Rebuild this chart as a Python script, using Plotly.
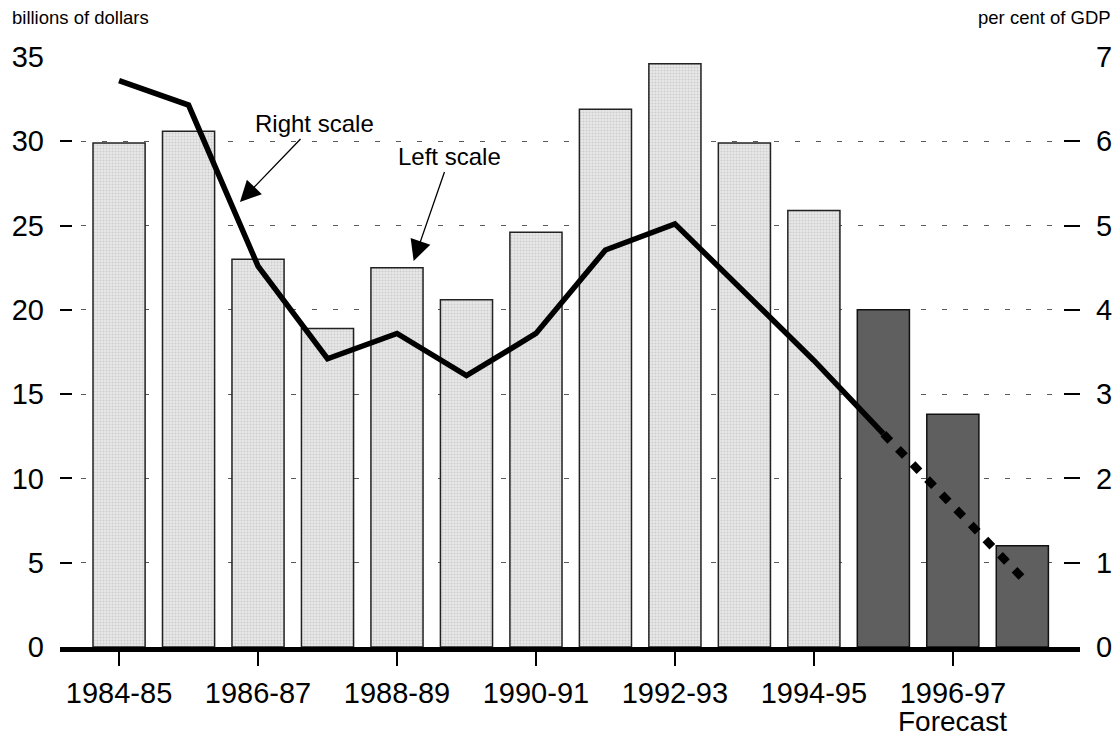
import plotly.graph_objects as go

years = ["1984-85", "1985-86", "1986-87", "1987-88", "1988-89", "1989-90", "1990-91",
         "1991-92", "1992-93", "1993-94", "1994-95", "1995-96", "1996-97", "1997-98"]

# billions of dollars (left scale)
deficit_hist = [29.9, 30.6, 23.0, 18.9, 22.5, 20.6, 24.6, 31.9, 34.6, 29.9, 25.9]
deficit_forecast = [20.0, 13.8, 6.0]

# per cent of GDP (right scale)
gdp_actual = [6.72, 6.43, 4.52, 3.42, 3.72, 3.22, 3.72, 4.71, 5.02, 4.2, 3.4, 2.53]
gdp_forecast = [2.53, 1.67, 0.82]

tick_years = years[::2]

FONT = "Liberation Sans, Arial, sans-serif"

fig = go.Figure()

fig.add_trace(go.Bar(
    x=years[:len(deficit_hist)], y=deficit_hist,
    width=0.75,
    marker=dict(
        color="#e0e0e0",
        line=dict(color="#222222", width=1.5),
        pattern=dict(shape=".", fgcolor="#b0b0b0", bgcolor="#e8e8e8", size=3, solidity=0.35),
    ),
    showlegend=False,
))
fig.add_trace(go.Bar(
    x=years[len(deficit_hist):], y=deficit_forecast,
    width=0.75,
    marker=dict(color="#5f5f5f", line=dict(color="#111111", width=1.5)),
    showlegend=False,
))

fig.add_trace(go.Scatter(
    x=years[:len(gdp_actual)], y=gdp_actual,
    mode="lines", yaxis="y2",
    line=dict(color="black", width=5.5),
    showlegend=False,
))
fig.add_trace(go.Scatter(
    x=years[len(gdp_actual) - 1:], y=gdp_forecast,
    mode="lines", yaxis="y2",
    line=dict(color="black", width=8, dash="10px,11px"),
    showlegend=False,
))

# page body has an 8px margin, so the figure is offset by 8px in the window
fig.update_layout(
    width=1104, height=728,
    margin=dict(l=52, r=32, t=49, b=89, autoexpand=False),
    paper_bgcolor="white", plot_bgcolor="white",
    barmode="overlay",
    font=dict(family=FONT, color="black"),
    xaxis=dict(
        type="category", categoryorder="array", categoryarray=years,
        range=[-0.85, 13.83], automargin=False,
        tickvals=tick_years, ticktext=tick_years,
        ticks="outside", ticklen=14, tickwidth=1.5, tickcolor="black",
        showline=True, linewidth=5, linecolor="black",
        showgrid=False, zeroline=False,
        tickfont=dict(size=29), ticklabelstandoff=2,
    ),
    yaxis=dict(
        range=[0, 35], dtick=5, automargin=False,
        ticks="inside", ticklen=12, tickwidth=1.5, tickcolor="black",
        showgrid=True, gridcolor="#5a5a5a", gridwidth=1.4, griddash="5px,16px",
        zeroline=False, showline=False,
        tickfont=dict(size=29), ticklabelstandoff=15,
    ),
    yaxis2=dict(
        range=[0, 7], dtick=1, overlaying="y", side="right", automargin=False,
        ticks="inside", ticklen=16, tickwidth=1.5, tickcolor="black",
        showgrid=False, zeroline=False, showline=False,
        tickfont=dict(size=29), ticklabelstandoff=15,
    ),
    annotations=[
        dict(text="billions of dollars", xref="paper", yref="paper", x=0, y=1,
             xanchor="left", yanchor="middle", xshift=-50, yshift=40,
             showarrow=False, font=dict(size=18.5)),
        dict(text="per cent of GDP", xref="paper", yref="paper", x=1, y=1,
             xanchor="right", yanchor="middle", xshift=33, yshift=40,
             showarrow=False, font=dict(size=18.5)),
        dict(text="Forecast", xref="x", yref="y", x=12, y=0,
             xanchor="center", yanchor="middle", yshift=-74,
             showarrow=False, font=dict(size=28)),
        dict(text="Right scale", xref="x", yref="y", x=1.74, y=26.4,
             ax=75, ay=-78, axref="pixel", ayref="pixel",
             showarrow=True, arrowhead=2, arrowsize=3.2, arrowwidth=1.3,
             arrowcolor="black", font=dict(size=24)),
        dict(text="Left scale", xref="x", yref="y", x=4.24, y=22.9,
             ax=36, ay=-104, axref="pixel", ayref="pixel",
             showarrow=True, arrowhead=2, arrowsize=3.2, arrowwidth=1.3,
             arrowcolor="black", font=dict(size=24)),
    ],
)

fig.write_html("out.html")
